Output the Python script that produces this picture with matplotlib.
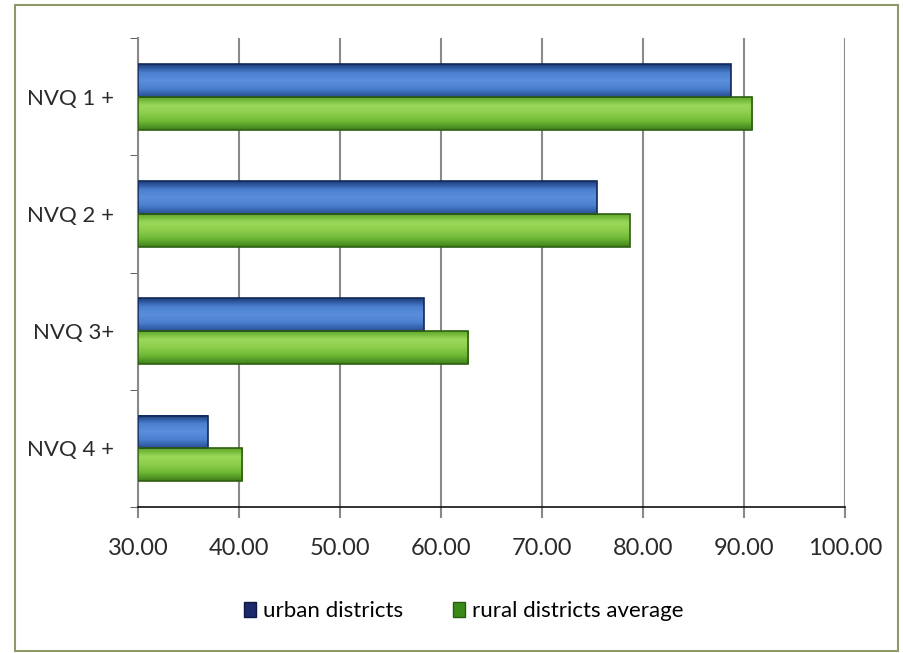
import numpy as np
import matplotlib.pyplot as plt
from matplotlib.colors import LinearSegmentedColormap
from matplotlib.patches import Rectangle

plt.rcParams['font.family'] = ['Lato', 'DejaVu Sans']

categories = ['NVQ 1 +', 'NVQ 2 +', 'NVQ 3+', 'NVQ 4 +']
urban = [88.7, 75.4, 58.3, 36.9]
rural = [90.8, 78.7, 62.7, 40.3]
series_names = ['urban districts', 'rural districts average']

fig = plt.figure(figsize=(9.04, 6.53), dpi=100)
ax = fig.add_axes([0.1527, 0.2236, 0.782, 0.718])

# frame round the whole chart
fig.patches.append(Rectangle((0.017, 0.003), 0.976, 0.99, transform=fig.transFigure,
                             fill=False, edgecolor='#8c9a6a', linewidth=1.5))

blue_cmap = LinearSegmentedColormap.from_list('b', ['#1c3c7c', '#4a7fcf', '#5b8fdc', '#4a7fcf', '#2a4f95'])
green_cmap = LinearSegmentedColormap.from_list('g', ['#5fa82a', '#9bd85a', '#8ccd4c', '#6db835', '#3f7f1a'])

h = 0.28
grad = np.linspace(0, 1, 64).reshape(-1, 1)


def shaded_bar(x0, x1, y0, y1, cmap, edge):
    ax.imshow(grad, cmap=cmap, extent=(x0, x1, y1, y0), aspect='auto',
              interpolation='bilinear', zorder=3)
    ax.add_patch(Rectangle((x0, y0), x1 - x0, y1 - y0, fill=False,
                           edgecolor=edge, linewidth=1.2, zorder=4))


ypos = np.arange(len(categories))
for i, y in enumerate(ypos):
    shaded_bar(30, urban[i], y - h, y, blue_cmap, '#13285a')
    shaded_bar(30, rural[i], y, y + h, green_cmap, '#2f5f12')

ax.set_xlim(30, 100)
ax.set_ylim(3.5, -0.5)
ax.set_xticks(np.arange(30, 101, 10))
ax.set_xticklabels(['%.2f' % v for v in np.arange(30, 101, 10)], fontsize=17, color='#2a2a2a')
ax.set_yticks(ypos)
ax.set_yticklabels(categories, fontsize=16, color='#2a2a2a')
ax.tick_params(axis='y', length=0, pad=17)
ax.set_yticks(np.arange(-0.5, 3.6, 1), minor=True)
ax.tick_params(axis='y', which='minor', length=6, color='#444444', direction='out')
ax.tick_params(axis='x', length=8, color='#888888', width=1.5, pad=14)

ax.grid(axis='x', color='#8a8a8a', linewidth=1.5, zorder=0)
ax.set_axisbelow(True)
for s in ['top', 'right']:
    ax.spines[s].set_visible(False)
ax.spines['left'].set_color('#8a8a8a')
ax.spines['left'].set_linewidth(1.5)
ax.spines['bottom'].set_color('#111111')
ax.spines['bottom'].set_linewidth(1.2)

handles = [Rectangle((0, 0), 1, 1, facecolor='#1a2a6a', edgecolor='#0e1a45'),
           Rectangle((0, 0), 1, 1, facecolor='#3a8a1a', edgecolor='#245f0e')]
fig.legend(handles, series_names, loc='center', bbox_to_anchor=(0.513, 0.064), ncol=2,
           frameon=False, fontsize=16, handlelength=0.55, handleheight=0.7,
           handletextpad=0.32, columnspacing=2.2)

fig.savefig('out.png', dpi=100)
